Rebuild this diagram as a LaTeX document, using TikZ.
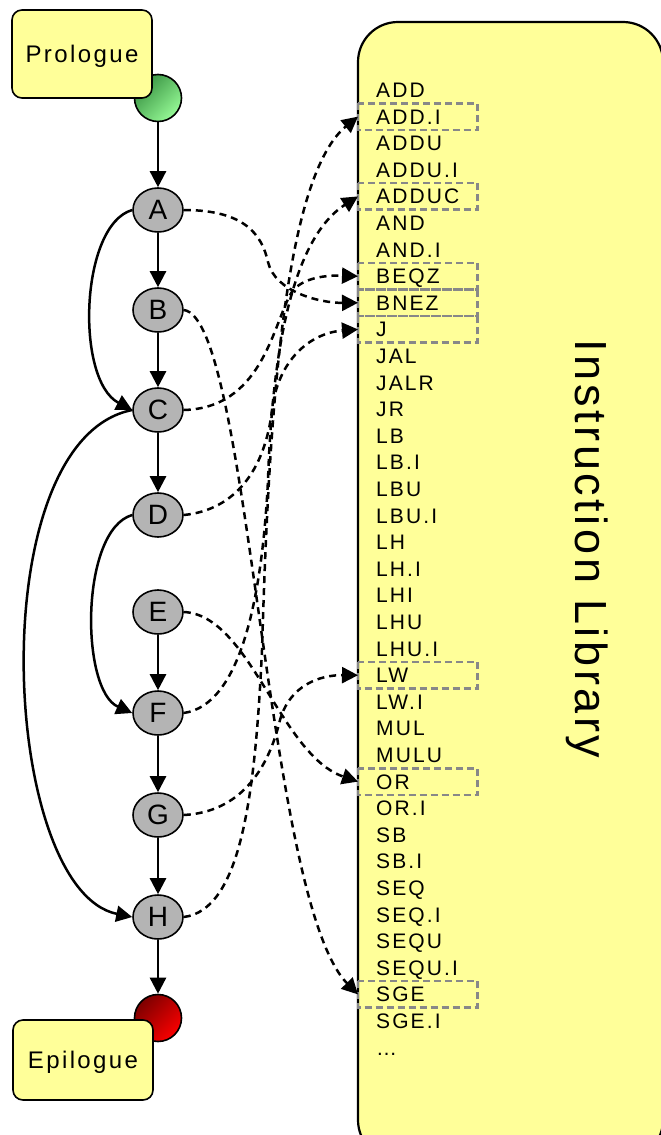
\documentclass[tikz,border=0pt]{standalone}
\usepackage{fontspec}
\setmainfont{Liberation Sans}
\newfontfamily\spacedfont{Liberation Sans}[LetterSpace=10]
\newfontfamily\titlefont{Liberation Sans}[LetterSpace=8]
\usepackage{xcolor}
\usepackage{tikz}
\usetikzlibrary{shapes.geometric, arrows.meta}

\definecolor{noteyellow}{RGB}{255,255,153}
\definecolor{blockgray}{RGB}{180,180,180}
\definecolor{markgray}{RGB}{136,136,136}
\definecolor{startdark}{RGB}{55,145,65}
\definecolor{startlight}{RGB}{150,250,150}
\definecolor{stopdark}{RGB}{125,0,0}
\definecolor{stoplight}{RGB}{250,0,0}

\begin{document}
\begin{tikzpicture}[x=1pt, y=-1pt,
  block/.style={ellipse, draw, line width=1.6pt, fill=blockgray, minimum width=50pt, minimum height=44pt, inner sep=0pt, font=\fontsize{28}{28}\selectfont},
  note/.style={draw, line width=1.6pt, fill=noteyellow, rounded corners=10pt, minimum width=140pt, text height=17pt, text depth=0pt, font=\fontsize{24}{24}\selectfont\spacedfont},
  instr/.style={anchor=west, text width=83pt, inner xsep=18pt, inner ysep=2pt, minimum height=26pt, text height=15pt, text depth=0pt, font=\fontsize{21}{24}\selectfont\spacedfont},
  hilite/.style={draw=markgray, line width=2.4pt, dash pattern=on 7pt off 4pt},
  flow/.style={line width=2.5pt, -{Triangle[length=16pt,width=16pt]}},
  call/.style={line width=2.5pt, dash pattern=on 7pt off 5pt, -{Triangle[length=16pt,width=16pt]}}]
\useasboundingbox (0,0) rectangle (661,1135);

% library box with the instruction list
\draw[line width=2.2pt, fill=noteyellow, rounded corners=40pt] (358,22) rectangle (663,1160);
\foreach \ins [count=\i from 0] in {ADD, ADD.I, ADDU, ADDU.I, ADDUC, AND, AND.I, BEQZ, BNEZ, J, JAL, JALR, JR, LB, LB.I, LBU, LBU.I, LH, LH.I, LHI, LHU, LHU.I, LW, LW.I, MUL, MULU, OR, OR.I, SB, SB.I, SEQ, SEQ.I, SEQU, SEQU.I, SGE, SGE.I, \ldots}
  \node[instr] (ins\i) at (358, {90+26.6*\i}) {\ins};
\foreach \i in {1,4,7,8,9,22,26,34}
  \draw[hilite] (ins\i.north west) rectangle (ins\i.south east);
\node[rotate=-90, anchor=base, font=\fontsize{45}{45}\selectfont\titlefont] (libtitle) at (575,549) {Instruction Library};

% entry and exit
\node[circle, draw, line width=1.6pt, minimum width=47pt, inner sep=0pt, top color=startdark, bottom color=startlight, shading angle=45] (start) at (158,98) {};
\node[circle, draw, line width=1.6pt, minimum width=47pt, inner sep=0pt, top color=stopdark, bottom color=stoplight, shading angle=45] (stop) at (158,1018) {};
\node[note, minimum height=88pt] (prologue) at (82,54) {Prologue};
\node[note, minimum height=80pt] (epilogue) at (83,1060) {Epilogue};

% basic blocks
\node[block] (A) at (158,210) {A};
\node[block] (B) at (158,310) {B};
\node[block] (C) at (158,410) {C};
\node[block] (D) at (158,515) {D};
\node[block] (E) at (158,612) {E};
\node[block] (F) at (158,713) {F};
\node[block] (G) at (158,815) {G};
\node[block] (H) at (158,917) {H};

\draw[flow] (start) -- (A);
\draw[flow] (A) -- (B);
\draw[flow] (B) -- (C);
\draw[flow] (C) -- (D);
\draw[flow] (E) -- (F);
\draw[flow] (F) -- (G);
\draw[flow] (G) -- (H);
\draw[flow] (H) -- (stop);
\draw[flow] (A.west) .. controls (80,225) and (75,380) .. (C.west);
\draw[flow] (D.west) .. controls (80,530) and (80,690) .. (F.west);
\draw[flow] (C.west) .. controls (-20,440) and (0,890) .. (H.west);

% calls into the library
\draw[call] (A.east) .. controls (245,210) and (262,235) .. (268,262) .. controls (275,292) and (320,303) .. (ins8.west);
\draw[call] (B.east) .. controls (250,318) and (265,900) .. (ins34.west);
\draw[call] (C.east) .. controls (260,408) and (272,330) .. (290,295) .. controls (299,278) and (325,275) .. (ins7.west);
\draw[call] (D.east) .. controls (235,510) and (265,470) .. (272,410) .. controls (278,360) and (310,333) .. (ins9.west);
\draw[call] (E.east) .. controls (250,615) and (280,755) .. (ins26.west);
\draw[call] (F.east) .. controls (240,705) and (262,600) .. (268,480) .. controls (272,360) and (290,240) .. (ins4.west);
\draw[call] (G.east) .. controls (240,812) and (268,770) .. (280,720) .. controls (290,685) and (320,675) .. (ins22.west);
\draw[call] (H.east) .. controls (240,910) and (255,800) .. (262,650) .. controls (268,450) and (280,180) .. (ins1.west);
\end{tikzpicture}
\end{document}
